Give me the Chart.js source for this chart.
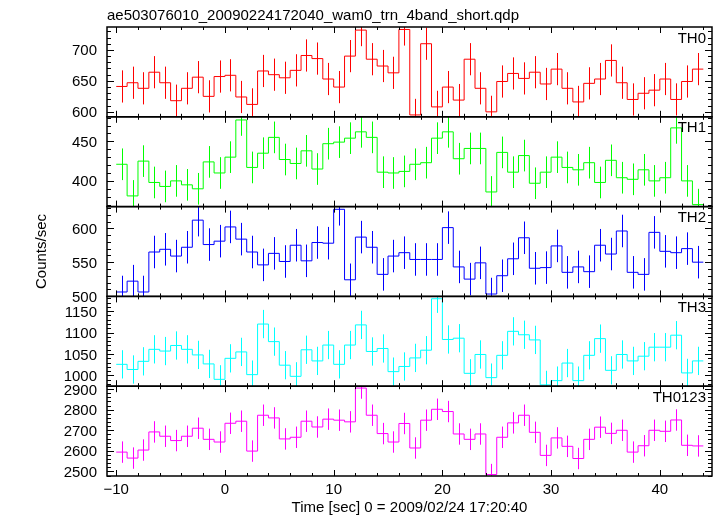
<!DOCTYPE html>
<html>
<head>
<meta charset="utf-8">
<title>wam0 light curve</title>
<script src="https://cdn.jsdelivr.net/npm/chart.js@4.4.1/dist/chart.umd.min.js"></script>
<style>
  html, body { margin: 0; padding: 0; background: #fff; }
  #wrap { width: 717px; height: 516px; }
</style>
</head>
<body>
<div id="wrap"><canvas id="lc" width="717" height="516"></canvas></div>
<script>
// texts
const plotTitle = 'ae503076010_20090224172040_wam0_trn_4band_short.qdp';
const xTitle = 'Time [sec] 0 = 2009/02/24 17:20:40';
const yTitle = 'Counts/sec';

// time bins (1 s bins starting at -10 s)
const binStart = -10;
const binWidth = 1;
const xTicks = [-10, 0, 10, 20, 30, 40];

// counts/sec per bin
const th0 = [641, 647, 638, 664, 647, 618, 638, 656, 625, 657, 659, 624, 612, 666, 660, 655, 667, 691, 686, 653,
  640, 690, 732, 685, 674, 663, 733, 595, 710, 608, 640, 619, 685, 638, 600, 649, 662, 654, 664, 645,
  669, 638, 616, 646, 653, 683, 647, 620, 630, 635, 653, 620, 649, 669];
const th1 = [421, 381, 425, 398, 393, 400, 395, 390, 424, 410, 430, 477, 417, 435, 455, 427, 422, 438, 415, 447,
  449, 454, 462, 455, 411, 410, 412, 421, 423, 454, 462, 428, 441, 441, 386, 436, 411, 432, 397, 411,
  430, 417, 414, 423, 398, 426, 404, 402, 414, 400, 404, 467, 400, 370];
const th2 = [506, 522, 506, 565, 569, 559, 572, 612, 576, 581, 602, 584, 565, 546, 563, 551, 575, 552, 579, 578,
  628, 524, 587, 572, 532, 559, 564, 554, 554, 554, 601, 543, 525, 549, 503, 530, 555, 586, 541, 542,
  574, 535, 543, 536, 575, 562, 596, 535, 532, 594, 566, 564, 570, 550];
const th3 = [1026, 1014, 1033, 1061, 1057, 1070, 1061, 1048, 1027, 991, 1040, 1055, 1002, 1120, 1079, 1024, 998, 1060, 1034, 1071,
  1026, 1071, 1118, 1056, 1063, 1009, 1021, 1041, 1059, 1179, 1084, 1087, 1005, 1049, 995, 1047, 1103, 1095, 1083, 978,
  988, 1029, 988, 1047, 1086, 1012, 1049, 1034, 1045, 1066, 1066, 1094, 1006, 1034];
const th0123 = [2594, 2565, 2604, 2692, 2671, 2650, 2671, 2710, 2656, 2643, 2734, 2744, 2599, 2773, 2760, 2658, 2666, 2744, 2716, 2754,
  2749, 2741, 2905, 2773, 2684, 2643, 2733, 2614, 2749, 2802, 2791, 2682, 2656, 2682, 2485, 2666, 2736, 2773, 2690, 2578,
  2663, 2622, 2563, 2656, 2715, 2685, 2700, 2594, 2625, 2700, 2695, 2750, 2627, 2624];

// half length of the error bars per panel
const errHalf = [26, 20, 24, 33, 52];

// y tick labels per panel
const th0Ticks = [600, 650, 700];
const th1Ticks = [400, 450];
const th2Ticks = [500, 550, 600];
const th3Ticks = [1000, 1050, 1100, 1150];
const th0123Ticks = [2500, 2600, 2700, 2800, 2900];

const panels = [
  { name: 'TH0',    vals: th0,    err: errHalf[0], color: '#ff0000', min: 592,   max: 737,    ticks: th0Ticks,    minor: 10 },
  { name: 'TH1',    vals: th1,    err: errHalf[1], color: '#00ff00', min: 367.5, max: 481,    ticks: th1Ticks,    minor: 10 },
  { name: 'TH2',    vals: th2,    err: errHalf[2], color: '#0000ff', min: 499.5, max: 632,    ticks: th2Ticks,    minor: 10 },
  { name: 'TH3',    vals: th3,    err: errHalf[3], color: '#00ffff', min: 975,   max: 1184.5, ticks: th3Ticks,    minor: 10 },
  { name: 'TH0123', vals: th0123, err: errHalf[4], color: '#ff00ff', min: 2478,  max: 2914,   ticks: th0123Ticks, minor: 20 }
];

const FONT = '15px "Liberation Sans", Arial, Helvetica, sans-serif';

// points on bin edges; the last edge repeats the last value
function stepPoints(vals) {
  const pts = [];
  for (let i = 0; i <= vals.length; i++) {
    pts.push({ x: binStart + i * binWidth, y: vals[Math.min(i, vals.length - 1)] });
  }
  return pts;
}

const scales = {
  x: {
    type: 'linear', position: 'bottom', min: -10.85, max: 44.8,
    grid: { display: false }, border: { display: false }, ticks: { display: false },
    afterFit: s => { s.height = 0; }
  }
};
panels.forEach((p, i) => {
  scales['y' + i] = {
    type: 'linear', position: 'left', stack: 'panels', stackWeight: 1,
    weight: panels.length - i, min: p.min, max: p.max,
    grid: { display: false }, border: { display: false }, ticks: { display: false },
    afterFit: s => { s.width = 0; }
  };
});

const datasets = panels.map((p, i) => ({
  label: p.name,
  data: stepPoints(p.vals),
  yAxisID: 'y' + i,
  borderColor: p.color,
  borderWidth: 1,
  pointRadius: 0,
  stepped: 'before',
  fill: false
}));

function hline(ctx, x1, x2, y) { ctx.beginPath(); ctx.moveTo(x1, y); ctx.lineTo(x2, y); ctx.stroke(); }
function vline(ctx, x, y1, y2) { ctx.beginPath(); ctx.moveTo(x, y1); ctx.lineTo(x, y2); ctx.stroke(); }

const qdpPlugin = {
  id: 'qdp',
  // clip every curve to its own panel
  beforeDatasetDraw(chart, args) {
    const ys = chart.scales[chart.data.datasets[args.index].yAxisID];
    const a = chart.chartArea;
    chart.ctx.save();
    chart.ctx.beginPath();
    chart.ctx.rect(a.left, ys.top, a.right - a.left, ys.bottom - ys.top);
    chart.ctx.clip();
  },
  afterDatasetDraw(chart) {
    chart.ctx.restore();
  },
  afterDatasetsDraw(chart) {
    const ctx = chart.ctx, a = chart.chartArea, xs = chart.scales.x;
    // error bars at bin centres
    panels.forEach((p, i) => {
      const ys = chart.scales['y' + i];
      ctx.save();
      ctx.beginPath();
      ctx.rect(a.left, ys.top, a.right - a.left, ys.bottom - ys.top);
      ctx.clip();
      ctx.strokeStyle = p.color;
      ctx.lineWidth = 1;
      p.vals.forEach((v, k) => {
        const x = Math.round(xs.getPixelForValue(binStart + (k + 0.5) * binWidth)) + 0.5;
        vline(ctx, x, ys.getPixelForValue(v + p.err), ys.getPixelForValue(v - p.err));
      });
      ctx.restore();
    });
  },
  afterDraw(chart) {
    const ctx = chart.ctx, a = chart.chartArea, xs = chart.scales.x;
    ctx.save();
    ctx.font = FONT;
    ctx.fillStyle = '#000';
    ctx.strokeStyle = '#000';
    panels.forEach((p, i) => {
      const ys = chart.scales['y' + i];
      // x ticks on top and bottom of each panel
      ctx.lineWidth = 1;
      for (let t = -10; t <= 44; t += 2) {
        const x = Math.round(xs.getPixelForValue(t)) + 0.5;
        const len = (t % 10 === 0) ? 6 : 3;
        vline(ctx, x, ys.top, ys.top + len);
        vline(ctx, x, ys.bottom, ys.bottom - len);
      }
      // y ticks on left and right
      for (let v = Math.ceil(p.min / p.minor) * p.minor; v <= p.max; v += p.minor) {
        const y = Math.round(ys.getPixelForValue(v)) + 0.5;
        const len = p.ticks.includes(v) ? 7 : 4;
        hline(ctx, a.left, a.left + len, y);
        hline(ctx, a.right, a.right - len, y);
      }
      ctx.textAlign = 'right';
      ctx.textBaseline = 'alphabetic';
      p.ticks.forEach(v => {
        ctx.fillText(String(v), a.left - 10, ys.getPixelForValue(v) + 5.5);
      });
      // panel name
      ctx.fillText(p.name, a.right - 6, ys.top + 15.5);
      // frame
      ctx.lineWidth = 1.5;
      ctx.strokeRect(a.left, ys.top, a.right - a.left, ys.bottom - ys.top);
    });
    // x tick labels
    ctx.textAlign = 'center';
    xTicks.forEach(t => {
      ctx.fillText(t < 0 ? '\u2212' + Math.abs(t) : String(t), xs.getPixelForValue(t), a.bottom + 17.5);
    });
    ctx.fillText(xTitle, (a.left + a.right) / 2, a.bottom + 35.5);
    // title
    ctx.textAlign = 'left';
    ctx.fillText(plotTitle, a.left, 19.5);
    // y title
    ctx.save();
    ctx.translate(46, (a.top + a.bottom) / 2);
    ctx.rotate(-Math.PI / 2);
    ctx.textAlign = 'center';
    ctx.fillText(yTitle, 0, 0);
    ctx.restore();
    ctx.restore();
  }
};

new Chart(document.getElementById('lc'), {
  type: 'line',
  data: { datasets: datasets },
  options: {
    responsive: false,
    animation: false,
    devicePixelRatio: 1,
    layout: { padding: { left: 107, top: 27, right: 5, bottom: 40 } },
    plugins: { legend: { display: false }, tooltip: { enabled: false }, title: { display: false } },
    scales: scales
  },
  plugins: [qdpPlugin]
});
</script>
</body>
</html>
